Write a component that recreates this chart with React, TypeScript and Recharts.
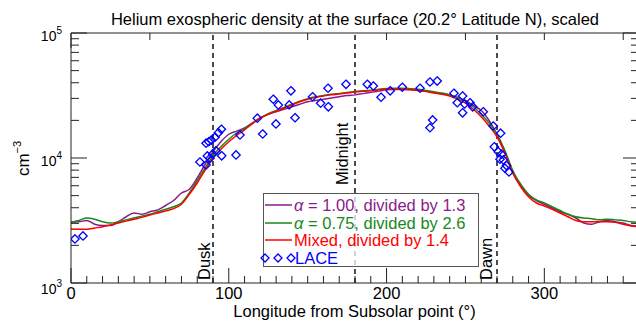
import React from 'react';
import { ComposedChart, Line, Scatter, XAxis, YAxis, ReferenceLine } from 'recharts';

const FONT = '"Liberation Sans", Arial, Helvetica, sans-serif';

const LON = [0, 5, 10, 15, 20, 25, 30, 35, 40, 45, 50, 55, 60, 65, 70, 75, 80, 85, 90, 95, 100, 105, 110, 115, 120, 125, 130, 135, 140, 145, 150, 155, 160, 165, 170, 175, 180, 185, 190, 195, 200, 205, 210, 215, 220, 225, 230, 235, 240, 245, 250, 255, 260, 265, 270, 275, 280, 285, 290, 295, 300, 305, 310, 315, 320, 325, 330, 335, 340, 345, 350, 355, 360];

const PURPLE = [3076, 3090, 3162, 2951, 2884, 2884, 3090, 3388, 3631, 3548, 3715, 3846, 4169, 4571, 5248, 5623, 6918, 8913, 11220, 13490, 15488, 16406, 17378, 19055, 20893, 22387, 23442, 24547, 25704, 26915, 28184, 28840, 29512, 30200, 30903, 31623, 31989, 32734, 33497, 34277, 35075, 35318, 35318, 35075, 34674, 34277, 33497, 32734, 31989, 30549, 28840, 26303, 23988, 19953, 15488, 11220, 7586, 6026, 5012, 4571, 4266, 3981, 3715, 3548, 3311, 3020, 2951, 3090, 3162, 3090, 3020, 2884, 2851];

const GREEN = [3055, 3162, 3311, 3236, 3090, 3020, 3090, 3199, 3311, 3428, 3548, 3715, 3890, 4074, 4365, 5248, 6607, 8318, 10471, 12303, 14125, 15849, 17179, 19055, 20893, 22646, 23988, 25410, 26915, 28510, 29854, 30903, 31623, 32359, 32885, 33497, 34041, 34514, 34914, 35481, 35975, 36141, 36141, 35892, 35481, 34674, 33884, 33113, 31989, 30549, 28510, 25704, 22387, 19055, 15488, 11482, 7943, 6166, 5129, 4624, 4365, 4074, 3802, 3548, 3388, 3311, 3273, 3199, 3236, 3199, 3162, 3090, 3055];

const RED = [2704, 2692, 2692, 2754, 2818, 2917, 3020, 3126, 3236, 3350, 3499, 3631, 3767, 3936, 4266, 5129, 6310, 8017, 10000, 11749, 13490, 15136, 16788, 18836, 20893, 22387, 23714, 25119, 26546, 28184, 29512, 30549, 31333, 31989, 32509, 33113, 33729, 34119, 34434, 35075, 35645, 35727, 35645, 35318, 34834, 34041, 33113, 32359, 31333, 29512, 27542, 24547, 21380, 18030, 14791, 10965, 7586, 5888, 4898, 4365, 4130, 3890, 3631, 3388, 3162, 3090, 3090, 3090, 3090, 3055, 2951, 2858, 2818];

const LACE_LON = [2.5, 7.6, 81.7, 85.6, 86.4, 88.1, 89.8, 91.9, 95.5, 85.6, 87.3, 88.9, 91.3, 93.4, 95.3, 104.6, 107.1, 118.1, 121.5, 128.2, 129.9, 131.4, 138.3, 139.4, 142, 153.1, 158.2, 162.9, 163.1, 174.3, 187.8, 191.6, 196.5, 202.3, 210, 221.2, 227.5, 232.1, 227.5, 229.2, 242.7, 244.8, 248.2, 248.2, 249.5, 252.9, 254.6, 261.3, 267.6, 272.3, 268.3, 270.8, 272.9, 274, 271.9, 275, 277.6, 276];
const LACE_VAL = [2250, 2380, 9290, 8790, 10380, 9950, 10770, 11440, 10420, 13130, 13490, 13930, 14660, 15920, 16980, 10570, 15280, 20800, 15560, 29510, 18710, 26550, 26550, 34510, 20990, 30900, 27420, 36140, 25700, 38900, 38900, 37670, 30620, 34510, 36810, 36140, 40550, 41300, 17460, 20140, 32960, 27670, 31330, 23010, 27040, 27670, 25700, 23440, 18030, 15780, 12300, 11220, 10720, 9640, 9780, 8280, 7730, 8700];

const X_TICKS = [0, 10, 20, 30, 40, 50, 60, 70, 80, 90, 100, 110, 120, 130, 140, 150, 160, 170, 180, 190, 200, 210, 220, 230, 240, 250, 260, 270, 280, 290, 300, 310, 320, 330, 340, 350, 360];
const X_LABELED = [0, 100, 200, 300];
const Y_TICKS = [1000, 2000, 3000, 4000, 5000, 6000, 7000, 8000, 9000, 10000, 20000, 30000, 40000, 50000, 60000, 70000, 80000, 90000, 100000];
const Y_LABELED = [1000, 10000, 100000];
const Y_EXP = [3, 4, 5];

const MARKERS = [
  { lon: 90, label: 'Dusk', dx: -3, lift: 3 },
  { lon: 180, label: 'Midnight', dx: -7, lift: 98 },
  { lon: 270, label: 'Dawn', dx: -5, lift: 3 },
];

const SERIES = [
  { key: 'purple', color: '#8B1A8B', name: '1.00, divided by 1.3', alpha: true },
  { key: 'green', color: '#17891A', name: '0.75, divided by 2.6', alpha: true },
  { key: 'red', color: '#FF0000', name: 'Mixed, divided by 1.4', alpha: false },
];
const LACE_COLOR = '#0000FF';
const LACE_NAME = 'LACE';

const TITLE = 'Helium exospheric density at the surface (20.2° Latitude N), scaled';
const X_TITLE = 'Longitude from Subsolar point (°)';

const table = LON.map((lon, i) => ({ lon, purple: PURPLE[i], green: GREEN[i], red: RED[i] }));
const laceData = LACE_LON.map((lon, i) => ({ lon, lace: LACE_VAL[i] }));

const AX = '#222';

const BottomTick = (p: any) => {
  const { x, y, payload } = p;
  const v = payload.value;
  const major = v % 100 === 0;
  return (
    <g>
      <line x1={x} x2={x} y1={y} y2={y - (major ? 15 : 7)} stroke={AX} strokeWidth={1} />
      {X_LABELED.includes(v) && (
        <text x={x} y={y + 16} textAnchor="middle" fontSize={16.5} fontFamily={FONT} fill="#000">
          {v}
        </text>
      )}
    </g>
  );
};

const TopTick = (p: any) => {
  const { x, y, payload } = p;
  const major = payload.value % 100 === 0;
  return <line x1={x} x2={x} y1={y} y2={y + (major ? 15 : 7)} stroke={AX} strokeWidth={1} />;
};

const LeftTick = (p: any) => {
  const { x, y, payload } = p;
  const v = payload.value;
  const idx = Y_LABELED.indexOf(v);
  const major = idx >= 0;
  return (
    <g>
      <line x1={x} x2={x + (major ? 16 : 8)} y1={y} y2={y} stroke={AX} strokeWidth={1} />
      {major && (
        <text x={x - 9} y={y + (v === 1000 ? 11 : 8)} textAnchor="end" fontSize={14} fontFamily={FONT} fill="#000">
          10
          <tspan dy={-7} fontSize={10}>{Y_EXP[idx]}</tspan>
        </text>
      )}
    </g>
  );
};

const RightTick = (p: any) => {
  const { x, y, payload } = p;
  const major = Y_LABELED.includes(payload.value);
  return <line x1={x} x2={x - (major ? 16 : 8)} y1={y} y2={y} stroke={AX} strokeWidth={1} />;
};

const Diamond = (p: any) => {
  const { cx, cy } = p;
  if (cx == null || cy == null) return <g />;
  const r = 4.2;
  return (
    <path
      d={`M${cx},${cy - r}L${cx + r},${cy}L${cx},${cy + r}L${cx - r},${cy}Z`}
      fill="none"
      stroke={LACE_COLOR}
      strokeWidth={1.3}
    />
  );
};

const makeMarkerLabel = (m: any) => (props: any) => {
  const vb = props.viewBox || {};
  const bx = vb.x + m.dx;
  const by = vb.y + vb.height - m.lift;
  return (
    <text
      transform={`translate(${bx},${by}) rotate(-90)`}
      textAnchor="start"
      fontSize={16.5}
      fontFamily={FONT}
      fill="#000"
    >
      {m.label}
    </text>
  );
};

export default function App() {
  const legendRows = [205, 223, 240];
  return (
    <div style={{ position: 'absolute', left: 0, top: 0, width: 636, height: 321, overflow: 'hidden', background: '#fff' }}>
      <ComposedChart
        width={660}
        height={321}
        data={table}
        margin={{ top: 32, right: 20, bottom: 37, left: 70 }}
      >
        <XAxis
          xAxisId="b"
          dataKey="lon"
          type="number"
          domain={[0, 360]}
          allowDataOverflow
          ticks={X_TICKS}
          interval={0}
          height={1}
          tickSize={0}
          tickMargin={0}
          tickLine={false}
          tick={(p: any) => <BottomTick {...p} />}
          axisLine={{ stroke: AX }}
        />
        <XAxis
          xAxisId="t"
          orientation="top"
          type="number"
          domain={[0, 360]}
          allowDataOverflow
          ticks={X_TICKS}
          interval={0}
          height={1}
          tickSize={0}
          tickMargin={0}
          tickLine={false}
          tick={(p: any) => <TopTick {...p} />}
          axisLine={{ stroke: AX }}
        />
        <YAxis
          yAxisId="l"
          scale="log"
          type="number"
          domain={[1000, 100000]}
          allowDataOverflow
          ticks={Y_TICKS}
          interval={0}
          width={1}
          tickSize={0}
          tickMargin={0}
          tickLine={false}
          tick={(p: any) => <LeftTick {...p} />}
          axisLine={{ stroke: AX }}
        />
        <YAxis
          yAxisId="r"
          orientation="right"
          scale="log"
          type="number"
          domain={[1000, 100000]}
          allowDataOverflow
          ticks={Y_TICKS}
          interval={0}
          width={1}
          tickSize={0}
          tickMargin={0}
          tickLine={false}
          tick={(p: any) => <RightTick {...p} />}
          axisLine={{ stroke: AX }}
        />
        {MARKERS.map((m) => (
          <ReferenceLine
            key={m.label}
            x={m.lon}
            xAxisId="b"
            yAxisId="l"
            stroke="#000"
            strokeWidth={1.4}
            strokeDasharray="5 4"
            label={makeMarkerLabel(m)}
          />
        ))}
        {SERIES.map((s) => (
          <Line
            key={s.key}
            xAxisId="b"
            yAxisId="l"
            dataKey={s.key}
            type="monotone"
            stroke={s.color}
            strokeWidth={1.5}
            dot={false}
            isAnimationActive={false}
          />
        ))}
        <Scatter
          xAxisId="b"
          yAxisId="l"
          data={laceData}
          dataKey="lace"
          shape={(p: any) => <Diamond {...p} />}
          isAnimationActive={false}
        />
      </ComposedChart>
      <svg
        width={636}
        height={321}
        style={{ position: 'absolute', left: 0, top: 0, pointerEvents: 'none' }}
        fontFamily={FONT}
      >
        <text x={355} y={25} textAnchor="middle" fontSize={16.5} fill="#000">{TITLE}</text>
        <text x={354.5} y={317} textAnchor="middle" fontSize={16.5} fill="#000">{X_TITLE}</text>
        <text transform="translate(28.5,158.5) rotate(-90)" textAnchor="middle" fontSize={17} fill="#000">
          cm<tspan dy={-8} fontSize={11}>−3</tspan>
        </text>
        <rect x={263.5} y={193.5} width={215} height={73} fill="rgba(255,255,255,0.75)" stroke="#555" strokeWidth={1} />
        {SERIES.map((s, i) => (
          <g key={s.key}>
            <line x1={265} x2={292} y1={legendRows[i]} y2={legendRows[i]} stroke={s.color} strokeWidth={1.5} />
            <text x={294} y={legendRows[i] + 6} fontSize={16.5} fill={s.color}>
              {s.alpha && <tspan fontStyle="italic">α</tspan>}
              {s.alpha ? ' = ' + s.name : s.name}
            </text>
          </g>
        ))}
        {[265, 278, 291].map((dx) => (
          <path key={dx} d={`M${dx},${254}L${dx + 4},${258}L${dx},${262}L${dx - 4},${258}Z`} fill="none" stroke={LACE_COLOR} strokeWidth={1.3} />
        ))}
        <text x={295} y={264} fontSize={16.5} fill={LACE_COLOR}>{LACE_NAME}</text>
      </svg>
    </div>
  );
}
